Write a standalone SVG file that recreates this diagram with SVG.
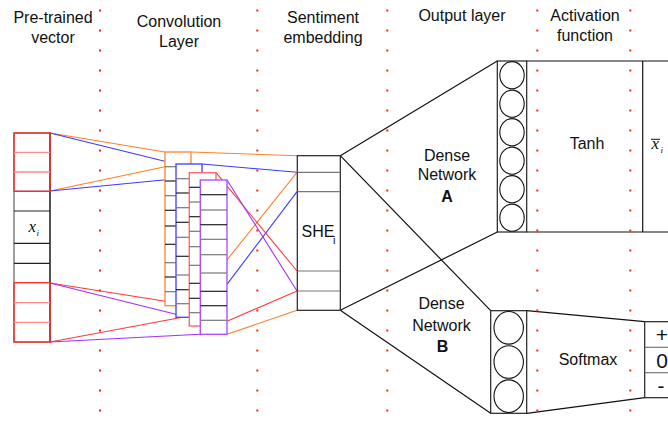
<svg xmlns="http://www.w3.org/2000/svg" width="668" height="421" viewBox="0 0 668 421">
  <style>
    text { font-family: "Liberation Sans", Arial, sans-serif; font-size: 16px; fill: #111; }
    .hdr { text-anchor: middle; }
    .mid { text-anchor: middle; }
    .math { font-family: "Liberation Serif", "Times New Roman", serif; font-style: italic; font-size: 17px; }
    .sub { font-size: 9px; }
    .sub-she { font-size: 11px; }
    .sym { font-size: 21px; text-anchor: middle; }
    .bold { font-weight: bold; }
    .edge { fill: none; stroke: #111; stroke-width: 1.2; }
    .cell { fill: #fff; stroke: #222; stroke-width: 1.2; }
    .row { stroke: #222; stroke-width: 1.2; }
    .rowg { stroke: #777; stroke-width: 1.2; }
    .c-or { stroke: #ff7f2a; }
    .c-bl { stroke: #3a3aff; }
    .c-rd { stroke: #ff3a3a; }
    .c-pu { stroke: #a030ff; }
    .wire { fill: none; stroke-width: 1.1; }
    .box-or { fill: #fff; stroke: #ff8c3a; stroke-width: 1.4; }
    .box-bl { fill: #fff; stroke: #4a4aff; stroke-width: 1.4; }
    .box-rd { fill: #fff; stroke: #ff6a6a; stroke-width: 1.4; }
    .box-pu { fill: #fff; stroke: #b050ff; stroke-width: 1.4; }
    .neuron { fill: #fff; stroke: #111; stroke-width: 1.1; }
    .dot { fill: #ff2020; }
  </style>

  <!-- column headings -->
  <g id="headings">
    <text class="hdr" x="53" y="22.5">Pre-trained</text>
    <text class="hdr" x="53" y="42.5">vector</text>
    <text class="hdr" x="179" y="26.5">Convolution</text>
    <text class="hdr" x="179" y="46.5">Layer</text>
    <text class="hdr" x="323" y="22.5">Sentiment</text>
    <text class="hdr" x="323" y="42.5">embedding</text>
    <text class="hdr" x="462" y="20.5">Output layer</text>
    <text class="hdr" x="585" y="20.5">Activation</text>
    <text class="hdr" x="585" y="40.5">function</text>
  </g>

  <!-- connectors -->
  <g id="connectors">
    <!-- input windows to feature maps -->
    <line class="wire c-or" x1="50" y1="133" x2="165" y2="152"/>
    <line class="wire c-bl" x1="50" y1="133" x2="176" y2="164"/>
    <line class="wire c-or" x1="50" y1="191" x2="165" y2="166.7"/>
    <line class="wire c-bl" x1="50" y1="191" x2="176" y2="178.7"/>
    <line class="wire c-rd" x1="50" y1="283" x2="189" y2="305"/>
    <line class="wire c-pu" x1="50" y1="283" x2="200" y2="320.3"/>
    <line class="wire c-rd" x1="50" y1="342" x2="189" y2="316"/>
    <line class="wire c-pu" x1="50" y1="342" x2="200" y2="334.3"/>
    <!-- feature maps to sentiment embedding -->
    <line class="wire c-or" x1="191" y1="152" x2="297" y2="155.7"/>
    <line class="wire c-bl" x1="202" y1="164" x2="297" y2="172.3"/>
    <line class="wire c-or" x1="191" y1="305" x2="297" y2="172.3"/>
    <line class="wire c-bl" x1="202" y1="317.3" x2="297" y2="191.7"/>
    <line class="wire c-rd" x1="216" y1="172.7" x2="297" y2="271"/>
    <line class="wire c-pu" x1="227" y1="180" x2="297" y2="291"/>
    <line class="wire c-rd" x1="216" y1="326" x2="297" y2="291"/>
    <line class="wire c-or" x1="227" y1="334.3" x2="297" y2="310.3"/>
    <!-- embedding to dense networks -->
    <line class="edge" x1="340.3" y1="155.7" x2="497.3" y2="61"/>
    <line class="edge" x1="340.3" y1="310.3" x2="497.3" y2="232"/>
    <line class="edge" x1="340.3" y1="155.7" x2="490.7" y2="310.7"/>
    <line class="edge" x1="340.3" y1="310.3" x2="490.7" y2="413.3"/>
    <!-- softmax funnel -->
    <line class="edge" x1="526.7" y1="310.7" x2="644.7" y2="321.7"/>
    <line class="edge" x1="526.7" y1="413.3" x2="644.7" y2="397.7"/>
  </g>

  <!-- pre-trained word vector -->
  <g id="pretrained-vector">
    <rect x="14" y="133" width="36" height="209" fill="#fff" stroke="#777" stroke-width="1.4"/>
    <line x1="50" y1="133" x2="50" y2="342" stroke="#333" stroke-width="1.4"/>
    <line class="row" x1="14" y1="211" x2="50" y2="211"/>
    <line class="row" x1="14" y1="243.3" x2="50" y2="243.3"/>
    <line class="row" x1="14" y1="263.3" x2="50" y2="263.3"/>
    <rect x="14" y="133" width="36" height="58.3" fill="none" stroke="#ff3030" stroke-width="1.4"/>
    <line x1="14" y1="152.3" x2="50" y2="152.3" stroke="#ff8a8a" stroke-width="1.3"/>
    <line x1="14" y1="172" x2="50" y2="172" stroke="#ff8a8a" stroke-width="1.3"/>
    <line x1="14" y1="191.3" x2="50" y2="191.3" stroke="#b04070" stroke-width="1.3"/>
    <rect x="14" y="282.7" width="36" height="59.3" fill="none" stroke="#ff3030" stroke-width="1.4"/>
    <line x1="14" y1="302.7" x2="50" y2="302.7" stroke="#ff8a8a" stroke-width="1.3"/>
    <line x1="14" y1="322.3" x2="50" y2="322.3" stroke="#ff8a8a" stroke-width="1.3"/>
    <text class="math" x="28.5" y="231.5">x</text>
    <text class="math sub" x="36.5" y="236">i</text>
  </g>

  <!-- convolution feature maps -->
  <g id="feature-map-orange">
    <rect class="box-or" x="165" y="152" width="26" height="153.7"/>
    <line class="rowg" x1="165" y1="166.7" x2="191" y2="166.7"/>
    <line class="row" x1="165" y1="181" x2="191" y2="181"/>
    <line class="rowg" x1="165" y1="195.7" x2="191" y2="195.7"/>
    <line class="row" x1="165" y1="210.3" x2="191" y2="210.3"/>
    <line class="row" x1="165" y1="226" x2="191" y2="226"/>
    <line class="row" x1="165" y1="244.3" x2="191" y2="244.3"/>
    <line class="rowg" x1="165" y1="262.7" x2="191" y2="262.7"/>
    <line class="row" x1="165" y1="277" x2="191" y2="277"/>
    <line class="rowg" x1="165" y1="291.7" x2="191" y2="291.7"/>
  </g>
  <g id="feature-map-blue">
    <rect class="box-bl" x="176" y="164" width="26" height="153.3"/>
    <line class="rowg" x1="176" y1="178.7" x2="202" y2="178.7"/>
    <line class="row" x1="176" y1="193" x2="202" y2="193"/>
    <line class="rowg" x1="176" y1="207.7" x2="202" y2="207.7"/>
    <line class="row" x1="176" y1="222.3" x2="202" y2="222.3"/>
    <line class="rowg" x1="176" y1="237.3" x2="202" y2="237.3"/>
    <line class="row" x1="176" y1="256.3" x2="202" y2="256.3"/>
    <line class="rowg" x1="176" y1="275" x2="202" y2="275"/>
    <line class="row" x1="176" y1="289.7" x2="202" y2="289.7"/>
    <line class="rowg" x1="176" y1="303.7" x2="202" y2="303.7"/>
  </g>
  <g id="feature-map-red">
    <rect class="box-rd" x="189.3" y="172.7" width="26.7" height="153.3"/>
    <line class="row" x1="189.3" y1="187.3" x2="216" y2="187.3"/>
    <line class="rowg" x1="189.3" y1="202" x2="216" y2="202"/>
    <line class="row" x1="189.3" y1="216.7" x2="216" y2="216.7"/>
    <line class="rowg" x1="189.3" y1="231.3" x2="216" y2="231.3"/>
    <line class="rowg" x1="189.3" y1="246.7" x2="216" y2="246.7"/>
    <line class="rowg" x1="189.3" y1="265.3" x2="216" y2="265.3"/>
    <line class="row" x1="189.3" y1="283.3" x2="216" y2="283.3"/>
    <line class="row" x1="189.3" y1="298.3" x2="216" y2="298.3"/>
    <line class="rowg" x1="189.3" y1="312.7" x2="216" y2="312.7"/>
  </g>
  <g id="feature-map-purple">
    <rect class="box-pu" x="200.3" y="180" width="26.7" height="154.3"/>
    <line class="row" x1="200.3" y1="194.7" x2="227" y2="194.7"/>
    <line class="rowg" x1="200.3" y1="210" x2="227" y2="210"/>
    <line class="row" x1="200.3" y1="224.7" x2="227" y2="224.7"/>
    <line class="rowg" x1="200.3" y1="239.3" x2="227" y2="239.3"/>
    <line class="rowg" x1="200.3" y1="254.7" x2="227" y2="254.7"/>
    <line class="rowg" x1="200.3" y1="273" x2="227" y2="273"/>
    <line class="row" x1="200.3" y1="291.3" x2="227" y2="291.3"/>
    <line class="row" x1="200.3" y1="305.7" x2="227" y2="305.7"/>
    <line class="rowg" x1="200.3" y1="320.3" x2="227" y2="320.3"/>
  </g>

  <!-- sentiment embedding -->
  <g id="sentiment-embedding">
    <rect class="cell" x="297.3" y="155.7" width="43" height="154.6"/>
    <line class="rowg" x1="297.3" y1="172.3" x2="340.3" y2="172.3"/>
    <line class="rowg" x1="297.3" y1="191.7" x2="340.3" y2="191.7"/>
    <line class="rowg" x1="297.3" y1="271" x2="340.3" y2="271"/>
    <line class="rowg" x1="297.3" y1="291" x2="340.3" y2="291"/>
    <text x="301.5" y="237">SHE</text>
    <text class="sub-she" x="333" y="244">i</text>
  </g>

  <!-- dense network A -->
  <g id="dense-network-a">
    <rect class="cell" x="497.3" y="61" width="29.4" height="171"/>
    <ellipse class="neuron" cx="512" cy="75.2" rx="12.2" ry="13.6"/>
    <ellipse class="neuron" cx="512" cy="103.7" rx="12.2" ry="13.6"/>
    <ellipse class="neuron" cx="512" cy="132.2" rx="12.2" ry="13.6"/>
    <ellipse class="neuron" cx="512" cy="160.7" rx="12.2" ry="13.6"/>
    <ellipse class="neuron" cx="512" cy="189.2" rx="12.2" ry="13.6"/>
    <ellipse class="neuron" cx="512" cy="217.7" rx="12.2" ry="13.6"/>
    <text class="mid" x="447" y="161">Dense</text>
    <text class="mid" x="447" y="180">Network</text>
    <text class="mid bold" x="447" y="202">A</text>
  </g>

  <!-- tanh activation and its output -->
  <g id="tanh-activation">
    <line class="edge" x1="526.7" y1="61" x2="668" y2="61"/>
    <line class="edge" x1="526.7" y1="232" x2="668" y2="232"/>
    <line class="edge" x1="642.7" y1="61" x2="642.7" y2="232"/>
    <text class="mid" x="587" y="149.3">Tanh</text>
    <text class="math" x="651.5" y="149.3">x</text>
    <line x1="651" y1="139.3" x2="660" y2="139.3" stroke="#111" stroke-width="1"/>
    <text class="math sub" x="660.5" y="152.5">i</text>
  </g>

  <!-- dense network B -->
  <g id="dense-network-b">
    <rect class="cell" x="490.7" y="310.7" width="36" height="102.6"/>
    <ellipse class="neuron" cx="508.7" cy="327.8" rx="14.7" ry="16.3"/>
    <ellipse class="neuron" cx="508.7" cy="362" rx="14.7" ry="16.3"/>
    <ellipse class="neuron" cx="508.7" cy="396.2" rx="14.7" ry="16.3"/>
    <text class="mid" x="441.5" y="309">Dense</text>
    <text class="mid" x="441.5" y="331">Network</text>
    <text class="mid bold" x="442.5" y="352">B</text>
  </g>

  <!-- softmax activation and class outputs -->
  <g id="softmax-activation">
    <text class="mid" x="588" y="365">Softmax</text>
  </g>
  <g id="class-output">
    <rect class="cell" x="644.7" y="321.7" width="30" height="76"/>
    <line class="rowg" x1="644.7" y1="347.3" x2="668" y2="347.3"/>
    <line class="rowg" x1="644.7" y1="372.7" x2="668" y2="372.7"/>
    <text class="sym" x="662" y="342">+</text>
    <text class="sym" x="662" y="367.5">0</text>
    <text class="sym" x="661" y="393">-</text>
  </g>

  <!-- dotted column guides -->
  <g id="guide-dots" class="dot">
    <path d="M99 9.5h2v2h-2zM99 29.5h2v2h-2zM99 49.5h2v2h-2zM99 69.5h2v2h-2zM99 89.5h2v2h-2zM99 109.5h2v2h-2zM99 129.5h2v2h-2zM99 149.5h2v2h-2zM99 169.5h2v2h-2zM99 189.5h2v2h-2zM99 209.5h2v2h-2zM99 229.5h2v2h-2zM99 249.5h2v2h-2zM99 269.5h2v2h-2zM99 289.5h2v2h-2zM99 309.5h2v2h-2zM99 329.5h2v2h-2zM99 349.5h2v2h-2zM99 369.5h2v2h-2zM99 389.5h2v2h-2zM99 409.5h2v2h-2z"/>
    <path d="M256.3 9.5h2v2h-2zM256.3 29.5h2v2h-2zM256.3 49.5h2v2h-2zM256.3 69.5h2v2h-2zM256.3 89.5h2v2h-2zM256.3 109.5h2v2h-2zM256.3 129.5h2v2h-2zM256.3 149.5h2v2h-2zM256.3 169.5h2v2h-2zM256.3 189.5h2v2h-2zM256.3 209.5h2v2h-2zM256.3 229.5h2v2h-2zM256.3 249.5h2v2h-2zM256.3 269.5h2v2h-2zM256.3 289.5h2v2h-2zM256.3 309.5h2v2h-2zM256.3 329.5h2v2h-2zM256.3 349.5h2v2h-2zM256.3 369.5h2v2h-2zM256.3 389.5h2v2h-2zM256.3 409.5h2v2h-2z"/>
    <path d="M386.3 9.5h2v2h-2zM386.3 29.5h2v2h-2zM386.3 49.5h2v2h-2zM386.3 69.5h2v2h-2zM386.3 89.5h2v2h-2zM386.3 109.5h2v2h-2zM386.3 129.5h2v2h-2zM386.3 149.5h2v2h-2zM386.3 169.5h2v2h-2zM386.3 189.5h2v2h-2zM386.3 209.5h2v2h-2zM386.3 229.5h2v2h-2zM386.3 249.5h2v2h-2zM386.3 269.5h2v2h-2zM386.3 289.5h2v2h-2zM386.3 309.5h2v2h-2zM386.3 329.5h2v2h-2zM386.3 349.5h2v2h-2zM386.3 369.5h2v2h-2zM386.3 389.5h2v2h-2zM386.3 409.5h2v2h-2z"/>
    <path d="M536.3 9.5h2v2h-2zM536.3 29.5h2v2h-2zM536.3 49.5h2v2h-2zM536.3 69.5h2v2h-2zM536.3 89.5h2v2h-2zM536.3 109.5h2v2h-2zM536.3 129.5h2v2h-2zM536.3 149.5h2v2h-2zM536.3 169.5h2v2h-2zM536.3 189.5h2v2h-2zM536.3 209.5h2v2h-2zM536.3 229.5h2v2h-2zM536.3 249.5h2v2h-2zM536.3 269.5h2v2h-2zM536.3 289.5h2v2h-2zM536.3 309.5h2v2h-2zM536.3 329.5h2v2h-2zM536.3 349.5h2v2h-2zM536.3 369.5h2v2h-2zM536.3 389.5h2v2h-2zM536.3 409.5h2v2h-2z"/>
    <path d="M629.3 9.5h2v2h-2zM629.3 29.5h2v2h-2zM629.3 49.5h2v2h-2zM629.3 69.5h2v2h-2zM629.3 89.5h2v2h-2zM629.3 109.5h2v2h-2zM629.3 129.5h2v2h-2zM629.3 149.5h2v2h-2zM629.3 169.5h2v2h-2zM629.3 189.5h2v2h-2zM629.3 209.5h2v2h-2zM629.3 229.5h2v2h-2zM629.3 249.5h2v2h-2zM629.3 269.5h2v2h-2zM629.3 289.5h2v2h-2zM629.3 309.5h2v2h-2zM629.3 329.5h2v2h-2zM629.3 349.5h2v2h-2zM629.3 369.5h2v2h-2zM629.3 389.5h2v2h-2zM629.3 409.5h2v2h-2z"/>
  </g>
</svg>
